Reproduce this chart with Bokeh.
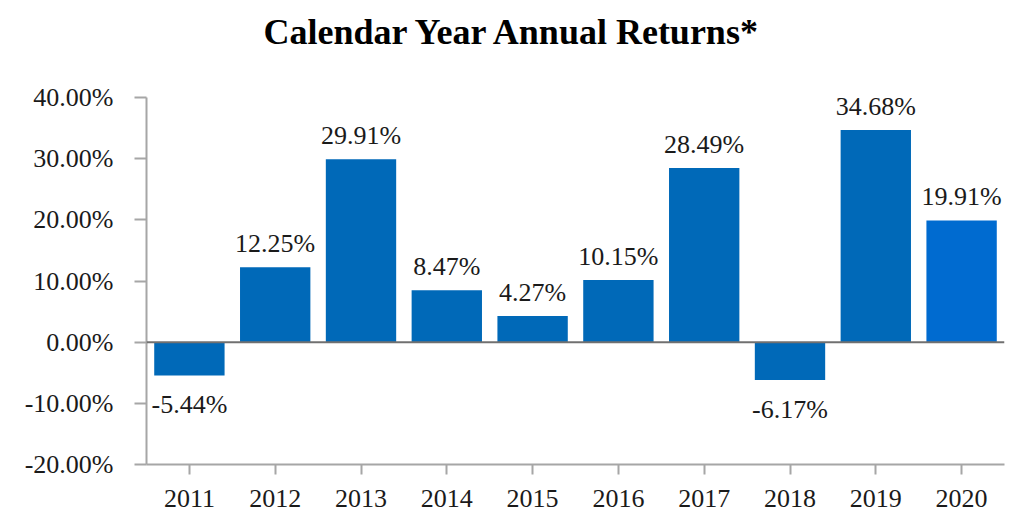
from bokeh.plotting import figure
from bokeh.models import FixedTicker, PrintfTickFormatter, Span, ColumnDataSource, FactorRange, Range1d, Title
from bokeh.core.properties import value
from bokeh.embed import file_html
from bokeh.resources import INLINE

years = ["2011", "2012", "2013", "2014", "2015", "2016", "2017", "2018", "2019", "2020"]
returns = [-5.44, 12.25, 29.91, 8.47, 4.27, 10.15, 28.49, -6.17, 34.68, 19.91]
colors = ["#0069b8"] * 9 + ["#006bd0"]
y_ticks = [-20, -10, 0, 10, 20, 30, 40]
title_text = "Calendar Year Annual Returns*"

FONT = "Liberation Serif"
labels = [f"{v:.2f}%" for v in returns]

p = figure(width=1016, height=524, x_range=FactorRange(*years, range_padding=0),
           y_range=Range1d(-20, 40), output_backend="svg", toolbar_location=None,
           min_border_left=146, min_border_right=12, min_border_top=97, min_border_bottom=60,
           title=None)

# spacer between frame and title (nearest the frame)
p.add_layout(Title(text=" ", text_font_size="10px", standoff=28), "above")
p.add_layout(Title(text=title_text, align="left", offset=117, standoff=10,
                   text_font=FONT, text_font_size="36px", text_font_style="bold",
                   text_color="#000000"), "above")

p.outline_line_color = None
p.grid.grid_line_color = None

src = ColumnDataSource(dict(x=years, top=returns, color=colors, label=labels))
p.vbar(x="x", top="top", bottom=0, width=0.82, fill_color="color", line_color=None, source=src)

pos = ColumnDataSource(dict(x=[y for y, v in zip(years, returns) if v >= 0],
                            y=[v for v in returns if v >= 0],
                            label=[l for l, v in zip(labels, returns) if v >= 0]))
neg = ColumnDataSource(dict(x=[y for y, v in zip(years, returns) if v < 0],
                            y=[v for v in returns if v < 0],
                            label=[l for l, v in zip(labels, returns) if v < 0]))
p.text(x="x", y="y", text="label", source=pos, text_align="center", text_baseline="bottom",
       y_offset=-9, text_font=value(FONT), text_font_size="26px", text_color="#1a1a1a")
p.text(x="x", y="y", text="label", source=neg, text_align="center", text_baseline="top",
       y_offset=15, text_font=value(FONT), text_font_size="26px", text_color="#1a1a1a")

p.add_layout(Span(location=0, dimension="width", line_color="#707070", line_width=2))

p.yaxis.ticker = FixedTicker(ticks=y_ticks)
p.yaxis.formatter = PrintfTickFormatter(format="%.2f%%")
for ax in (p.xaxis, p.yaxis):
    ax.axis_line_color = "#a6a6a6"
    ax.axis_line_width = 2
    ax.major_tick_line_color = "#a6a6a6"
    ax.major_tick_line_width = 2
    ax.major_tick_in = 0
    ax.minor_tick_line_color = None
    ax.major_label_text_font = FONT
    ax.major_label_text_font_size = "26px"
    ax.major_label_text_color = "#1a1a1a"
p.yaxis.major_tick_out = 12
p.yaxis.major_label_standoff = 21
p.xaxis.major_tick_out = 10
p.xaxis.major_label_standoff = 15

open("out.html", "w").write(file_html(p, INLINE))
